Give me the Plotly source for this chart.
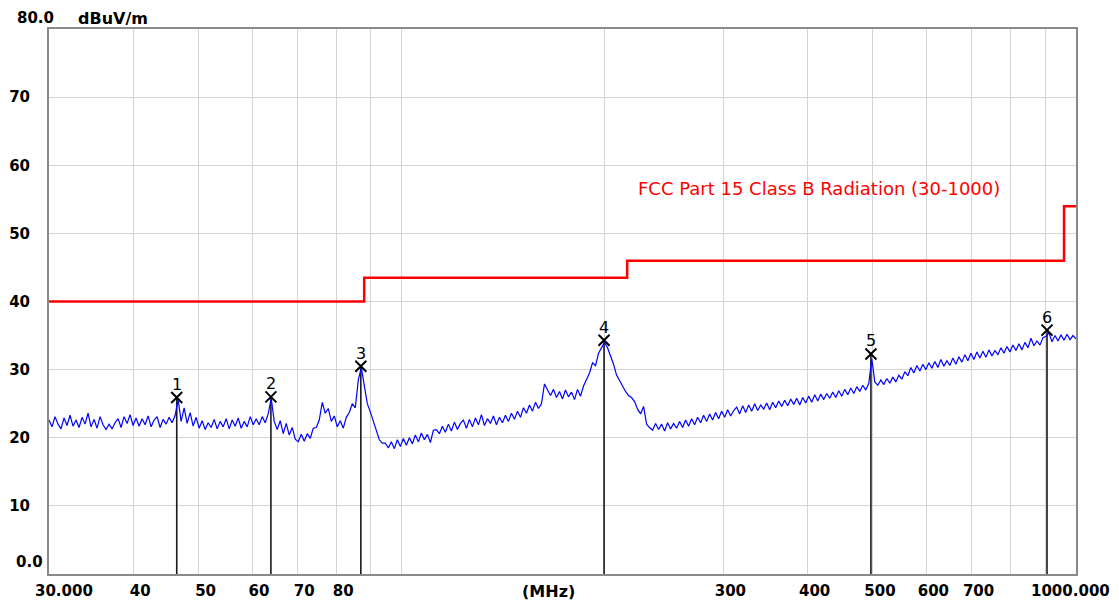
import numpy as np
import plotly.graph_objects as go

# ---------------- data ----------------
level = [
    22.6, 21.6, 23.1, 22.0, 21.3, 22.9, 21.8, 23.3, 21.7, 22.6,
    21.5, 23.0, 22.0, 23.6, 21.6, 22.7, 21.4, 23.1, 21.9, 21.2,
    22.0, 21.3, 22.2, 22.8, 21.5, 23.1, 22.1, 23.4, 21.8, 22.9,
    21.7, 22.8, 21.9, 23.2, 21.6, 22.6, 23.1, 21.5, 22.7, 22.0,
    23.0, 22.2, 23.3, 25.6, 22.4, 24.4, 22.1, 23.7, 21.7, 23.0,
    21.4, 22.5, 21.2, 22.2, 21.5, 22.7, 21.3, 22.4, 21.6, 22.8,
    21.3, 22.6, 21.7, 22.9, 21.4, 22.4, 21.6, 23.1, 21.9, 22.8,
    21.9, 23.1, 22.2, 23.5, 25.8, 22.4, 21.2, 22.5, 20.6, 22.1,
    20.4, 21.5, 19.8, 19.4, 20.5, 19.5, 20.6, 19.9, 21.4, 21.5,
    22.6, 25.2, 23.6, 24.3, 22.4, 23.2, 21.6, 22.5, 21.4, 23.0,
    23.7, 25.0, 24.4, 28.5, 30.3, 27.5, 25.0, 23.8, 22.5, 21.2,
    19.7, 19.2, 19.2, 18.5, 19.4, 18.4, 19.7, 18.7, 19.9, 18.9,
    20.0, 19.1, 20.4, 19.4, 20.7, 19.7, 20.5, 19.3, 21.1, 21.2,
    20.6, 21.7, 20.8, 22.0, 21.0, 22.3, 21.2, 22.1, 22.6, 21.4,
    22.7, 21.6, 22.9, 21.9, 23.4, 21.8, 22.8, 22.1, 23.2, 21.9,
    23.0, 22.2, 23.3, 22.4, 23.6, 22.7, 23.9, 23.0, 24.4, 23.6,
    24.8, 23.9, 25.2, 24.3, 25.0, 27.9, 27.0, 26.2, 27.1, 25.9,
    26.8, 25.7, 27.0, 26.0, 26.7, 25.6, 27.1, 26.1, 27.6, 28.6,
    29.5, 31.0, 30.6, 32.4, 33.1, 34.0, 33.2, 32.0, 30.8, 29.2,
    28.3, 27.6, 26.8, 26.2, 25.9, 25.3, 24.2, 23.5, 24.6, 22.0,
    21.5, 21.1, 22.1, 21.2, 22.0, 21.0, 22.2, 21.3, 22.1, 21.4,
    22.4, 21.5, 22.6, 21.7, 22.8, 21.9, 23.0, 22.2, 23.3, 22.4,
    23.5, 22.6, 23.7, 22.8, 23.9, 23.0, 24.1, 23.2, 24.0, 24.5,
    23.5, 24.7, 23.7, 24.8, 23.9, 25.0, 24.0, 24.8, 24.2, 25.1,
    24.1, 25.2, 24.4, 25.4, 24.6, 25.5, 24.7, 25.7, 24.9, 25.8,
    24.8, 25.9, 25.1, 26.1, 25.2, 26.3, 25.4, 26.4, 25.6, 26.5,
    25.8, 26.7, 25.9, 26.9, 26.1, 27.1, 26.3, 27.3, 26.5, 27.5,
    26.8, 27.7, 27.0, 28.0, 31.6, 28.2, 27.7, 28.5, 27.8, 28.7,
    28.0, 28.9, 28.2, 29.2, 28.6, 29.7, 29.1, 30.3, 29.5, 30.6,
    29.8, 30.8, 30.0, 31.0, 30.2, 31.2, 30.3, 31.5, 30.5, 31.3,
    30.6, 31.7, 30.8, 31.9, 31.1, 32.2, 31.3, 32.4, 31.5, 32.6,
    31.7, 32.7, 31.8, 32.9, 32.0, 32.8, 32.2, 33.2, 32.4, 33.4,
    32.6, 33.6, 32.8, 33.8, 32.9, 34.0, 33.2, 34.6, 33.5, 34.2,
    33.6, 34.7, 34.9, 35.4, 34.1, 35.0, 34.2, 35.1, 34.3, 35.2,
    34.4, 35.0, 34.5,
]
freq = np.geomspace(30, 1000, len(level))  # sweep grid (MHz)

limit_freq = [30, 88, 216, 960, 1000]
limit_level = [40, 43.5, 46, 54, 54]
limit_name = "FCC Part 15 Class B Radiation (30-1000)"

marker_freq = [46.4, 64.0, 87.0, 199.6, 496.5, 905.8]
marker_level = [25.9, 26.0, 30.5, 34.3, 32.3, 35.8]
marker_label = ["1", "2", "3", "4", "5", "6"]

x_tickvals = [30, 40, 50, 60, 70, 80, 90, 100, 200, 300, 400, 500, 600, 700, 800, 900, 1000]
x_ticktext = ["30.000", "40", "50", "60", "70", "80", "", "", "", "300", "400", "500", "600", "700", "", "", "1000.000"]
y_tickvals = [10, 20, 30, 40, 50, 60, 70]
y_ticktext = ["10", "20", "30", "40", "50", "60", "70"]
y_unit = "dBuV/m"
x_unit = "(MHz)"

# ---------------- figure ----------------
LBL = dict(family="DejaVu Sans", size=15, color="black", weight="bold")
PW, PH = 1027, 545
# the page body adds an 8 px margin, so the figure is 8 px smaller and margins shifted
W, H = 1111, 597
ML, MT = 41, 21

# the two end labels are drawn as annotations so they stay inside the page
axis_ticktext = [""] + x_ticktext[1:-1] + [""]

fig = go.Figure()

# vertical marker stems
stem_x, stem_y = [], []
for f, l in zip(marker_freq, marker_level):
    stem_x += [f, f, None]
    stem_y += [0, l, None]
fig.add_trace(go.Scatter(x=stem_x, y=stem_y, mode="lines",
                         line=dict(color="#1a1a1a", width=1.6), hoverinfo="skip"))

fig.add_trace(go.Scatter(x=freq, y=level, mode="lines",
                         line=dict(color="#0000ff", width=1.2)))

fig.add_trace(go.Scatter(x=limit_freq, y=limit_level, mode="lines",
                         line=dict(color="#ff0000", width=2.5, shape="hv")))

fig.add_trace(go.Scatter(x=marker_freq, y=marker_level, mode="markers",
                         marker=dict(symbol="x-thin-open", size=11, color="black",
                                     line=dict(color="black", width=2))))

annotations = [
    dict(text=t, x=np.log10(f), y=l, xref="x", yref="y", yshift=13,
         xanchor="center", yanchor="middle", showarrow=False,
         font=dict(family="DejaVu Sans", size=16, color="black"))
    for f, l, t in zip(marker_freq, marker_level, marker_label)
]
annotations += [
    dict(text=x_ticktext[0], xref="paper", yref="paper", x=0, xshift=-16,
         y=-17 / PH, xanchor="left", yanchor="middle", showarrow=False, font=LBL),
    dict(text=x_ticktext[-1], xref="paper", yref="paper", x=1, xshift=36,
         y=-17 / PH, xanchor="right", yanchor="middle", showarrow=False, font=LBL),
    dict(text="0.0", xref="paper", yref="y", x=-4 / PW, y=1.8,
         xanchor="right", yanchor="middle", showarrow=False, font=LBL),
    dict(text="80.0", xref="paper", yref="paper", x=6 / PW,
         y=1 + MT / PH, xanchor="right", yanchor="top", borderpad=0,
         showarrow=False, font=LBL),
    dict(text=y_unit, xref="paper", yref="paper", x=(77 - 49) / PW,
         y=1 + MT / PH, xanchor="left", yanchor="top", borderpad=0, showarrow=False,
         font=dict(family="DejaVu Sans", size=16, color="black", weight="bold")),
    dict(text=x_unit, xref="paper", yref="paper", x=(548 - 49) / PW,
         y=-18 / PH, xanchor="center", yanchor="middle", showarrow=False,
         font=dict(family="DejaVu Sans", size=16, color="black", weight="bold")),
    dict(text=limit_name, xref="paper", yref="y", x=(636 - 49) / PW, y=56.6,
         xanchor="left", yanchor="middle", showarrow=False,
         font=dict(family="DejaVu Sans", size=18, color="#ff0000")),
]

fig.update_layout(
    width=W, height=H,
    margin=dict(l=ML, r=W - ML - PW, t=MT, b=H - MT - PH, autoexpand=False),
    paper_bgcolor="white", plot_bgcolor="white",
    showlegend=False,
    xaxis=dict(type="log", range=[np.log10(30), np.log10(1000)],
               tickvals=x_tickvals, ticktext=axis_ticktext,
               showgrid=True, gridcolor="#d4d4d4", gridwidth=1,
               showline=True, linecolor="#8a8a8a", linewidth=2, mirror=True,
               ticks="", tickfont=LBL, ticklabelstandoff=2, ticklabelshift=7,
               ticklabeloverflow="allow", automargin=False, zeroline=False),
    yaxis=dict(range=[0, 80], tickvals=y_tickvals, ticktext=y_ticktext,
               showgrid=True, gridcolor="#d4d4d4", gridwidth=1,
               showline=True, linecolor="#8a8a8a", linewidth=2, mirror=True,
               ticks="", tickfont=LBL, ticklabelstandoff=14,
               automargin=False, zeroline=False),
    annotations=annotations,
)

fig.write_html("out.html")
